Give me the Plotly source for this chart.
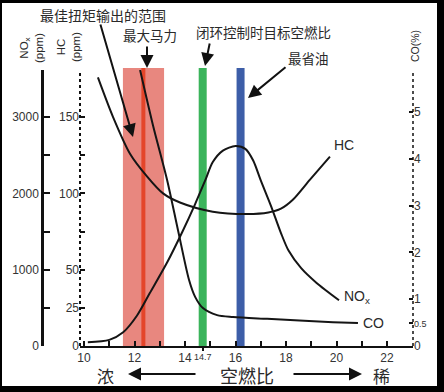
import plotly.graph_objects as go

# ---------------- data ----------------
nox_afr = [10.15, 11.0, 11.55, 12.1, 12.6, 13.3, 13.9, 14.4, 14.8, 15.1, 15.5, 16.0, 16.4, 16.7, 17.0, 17.4, 17.8, 18.1, 18.6, 19.2, 20.1]
nox_ppm = [50, 80, 180, 400, 690, 1100, 1500, 1860, 2170, 2410, 2560, 2620, 2580, 2430, 2170, 1840, 1480, 1250, 1020, 830, 600]

hc_afr = [10.55, 11.15, 11.82, 12.5, 13.13, 13.8, 15.1, 16.46, 17.3, 17.8, 18.28, 18.95, 19.74]
hc_ppm = [176, 150, 126, 111, 100, 94, 88, 86.5, 87.5, 90, 96, 109, 124]

co_afr = [12.22, 12.73, 13.29, 13.72, 14.16, 14.40, 14.71, 15.27, 15.90, 17.25, 19.86, 20.85]
co_pct = [5.90, 4.72, 3.55, 2.48, 1.41, 1.05, 0.81, 0.66, 0.62, 0.58, 0.51, 0.49]

torque_band = [11.54, 13.17]   # 最佳扭矩输出的范围
max_power_afr = 12.35          # 最大马力
closed_loop_afr = 14.7         # 闭环控制时目标空燃比
economy_afr = 16.2             # 最省油

x_tickvals = [10, 11, 12, 13, 14, 15, 16, 17, 18, 19, 20, 21, 22]
x_ticktext = ["10", "", "12", "", "14", "", "16", "", "18", "", "20", "", "22"]
nox_tickvals = [0, 500, 1000, 1500, 2000, 2500, 3000]
nox_ticktext = ["0", "", "1000", "", "2000", "", "3000"]
hc_tickvals = [0, 25, 50, 75, 100, 125, 150]
hc_ticktext = ["0", "25", "50", "", "100", "", "150"]
co_tickvals = [0, 0.5, 1, 2, 3, 4, 5]
co_ticktext = ["0", '<span style="font-size:9px">0.5</span>', "1", "2", "3", "4", "5"]

# ---------------- geometry ----------------
W, H = 444, 392
L, R, T, B = 42, 31, 70, 46
PW, PH = W - L - R, H - T - B


def px(x):
    return (x - L) / PW


def py(y):
    return (H - B - y) / PH


LATIN = "Liberation Sans, Arial, Noto Sans CJK SC, sans-serif"
CJK = "Noto Sans CJK SC, sans-serif"
TXT = "#2a2a2a"
CURVE = dict(color="#151515", width=2, shape="spline", smoothing=0.8)

fig = go.Figure()
fig.add_trace(go.Scatter(x=hc_afr, y=hc_ppm, yaxis="y", mode="lines", line=CURVE, hoverinfo="skip"))
fig.add_trace(go.Scatter(x=nox_afr, y=nox_ppm, yaxis="y2", mode="lines", line=CURVE, hoverinfo="skip"))
fig.add_trace(go.Scatter(x=co_afr, y=co_pct, yaxis="y3", mode="lines", line=CURVE, hoverinfo="skip"))
fig.add_trace(go.Scatter(x=[closed_loop_afr], y=[0], xaxis="x2", yaxis="y", mode="markers",
                         marker=dict(opacity=0), hoverinfo="skip"))

x_range = [9.84, 23.03]
x_dom = [px(80), 1.0]

shapes = []
# colour bands / bars
shapes.append(dict(type="rect", xref="x", yref="paper", x0=torque_band[0], x1=torque_band[1],
                   y0=0, y1=py(68), fillcolor="#e8877f", line=dict(width=0), layer="below"))
shapes.append(dict(type="line", xref="x", yref="paper", x0=max_power_afr, x1=max_power_afr,
                   y0=0, y1=py(68), line=dict(color="#e4452a", width=4), layer="below"))
shapes.append(dict(type="line", xref="x", yref="paper", x0=closed_loop_afr, x1=closed_loop_afr,
                   y0=0, y1=py(68), line=dict(color="#3bb45b", width=8), layer="below"))
shapes.append(dict(type="line", xref="x", yref="paper", x0=economy_afr, x1=economy_afr,
                   y0=0, y1=py(68), line=dict(color="#3d5ea8", width=8), layer="below"))
# dotted axes (HC left, CO right)
shapes.append(dict(type="line", xref="x domain", yref="paper", x0=0, x1=0, y0=0, y1=1,
                   line=dict(color="#111", width=2, dash="3px,3px")))
shapes.append(dict(type="line", xref="x domain", yref="paper", x0=1, x1=1, y0=0, y1=1,
                   line=dict(color="#111", width=1.5, dash="3px,3px")))
# black picture frame
for (a, b, c, d) in [(0, W, 0, 3), (0, W, 386, H), (0, 2, 0, H), (437, W, 0, H)]:
    shapes.append(dict(type="rect", xref="paper", yref="paper", x0=px(a), x1=px(b), y0=py(d), y1=py(c),
                       fillcolor="black", line=dict(width=0), layer="above"))

ann = []


def text(t, x, y, size, font=CJK, xanchor="left", angle=0):
    ann.append(dict(text=t, x=px(x), y=py(y), xref="paper", yref="paper", showarrow=False,
                    xanchor=xanchor, yanchor="middle", textangle=angle,
                    font=dict(family=font, size=size, color=TXT)))


def arrow(tail, head, width=2):
    ann.append(dict(text="", x=px(head[0]), y=py(head[1]), xref="paper", yref="paper",
                    ax=tail[0] - head[0], ay=tail[1] - head[1], axref="pixel", ayref="pixel",
                    showarrow=True, arrowhead=2, arrowsize=1.3, arrowwidth=width, arrowcolor="#111"))


text("最佳扭矩输出的范围", 38, 15, 14)
text("最大马力", 121, 35, 13.5)
text("闭环控制时目标空燃比", 194, 32, 13.5)
text("最省油", 286, 58, 13.5)
text("HC", 332, 145, 14, font=LATIN)
text("NO<sub>x</sub>", 342, 297, 14, font=LATIN)
text("CO", 361, 323, 14, font=LATIN)
text("NO<sub>x</sub><br>(ppm)", 31, 48, 11.5, font=LATIN, xanchor="center", angle=-90)
text("HC<br>(ppm)", 68, 47, 11.5, font=LATIN, xanchor="center", angle=-90)
text("CO(%)", 415, 46, 10.5, font=LATIN, xanchor="center", angle=-90)
text("浓", 105, 375, 17, xanchor="center")
text("空燃比", 247, 375, 18, xanchor="center")
text("稀", 381, 375, 17, xanchor="center")

arrow((197, 374), (128, 374))
arrow((292, 374), (362, 374))
arrow((100, 23), (133, 137))
arrow((147, 45), (147, 68))
arrow((210, 42), (205, 66))
arrow((287, 66), (248, 98))

tickfont = dict(family=LATIN, size=12, color="#333")

fig.update_layout(
    width=W, height=H, margin=dict(l=L, r=R, t=T, b=B, pad=0),
    paper_bgcolor="white", plot_bgcolor="white", showlegend=False,
    shapes=shapes, annotations=ann,
    xaxis=dict(domain=x_dom, range=x_range, anchor="y", showgrid=False, zeroline=False,
               showline=True, linecolor="#111", linewidth=2,
               tickmode="array", tickvals=x_tickvals, ticktext=x_ticktext,
               ticks="inside", ticklen=5, tickwidth=2, tickcolor="#111", tickfont=tickfont),
    xaxis2=dict(overlaying="x", anchor="y", side="bottom", range=x_range, domain=x_dom,
                showgrid=False, zeroline=False, showline=False,
                tickmode="array", tickvals=[closed_loop_afr], ticktext=["14.7"],
                ticks="outside", ticklen=4, tickwidth=1.5, tickcolor="#111", ticklabelstandoff=-2,
                tickfont=dict(family=LATIN, size=9, color="#333")),
    yaxis=dict(domain=[0, 1], range=[0, 180.8], anchor="x", side="left", showgrid=False, zeroline=False,
               showline=False, tickmode="array", tickvals=hc_tickvals, ticktext=hc_ticktext,
               ticks="inside", ticklen=5, tickwidth=2, tickcolor="#111", tickfont=tickfont),
    yaxis2=dict(overlaying="y", anchor="free", position=0, side="left", range=[0, 3616],
                showgrid=False, zeroline=False, showline=True, linecolor="#111", linewidth=2.5,
                tickmode="array", tickvals=nox_tickvals, ticktext=nox_ticktext,
                ticks="inside", ticklen=6, tickwidth=2, tickcolor="#111", tickfont=tickfont),
    yaxis3=dict(overlaying="y", anchor="x", side="right", range=[0, 5.9],
                showgrid=False, zeroline=False, showline=False,
                tickmode="array", tickvals=co_tickvals, ticktext=co_ticktext,
                ticks="inside", ticklen=4, tickwidth=2, tickcolor="#111", tickfont=tickfont),
)

fig.write_html("out.html", config={"displayModeBar": False},
               post_script="document.body.style.margin='0';document.body.style.padding='0';")
